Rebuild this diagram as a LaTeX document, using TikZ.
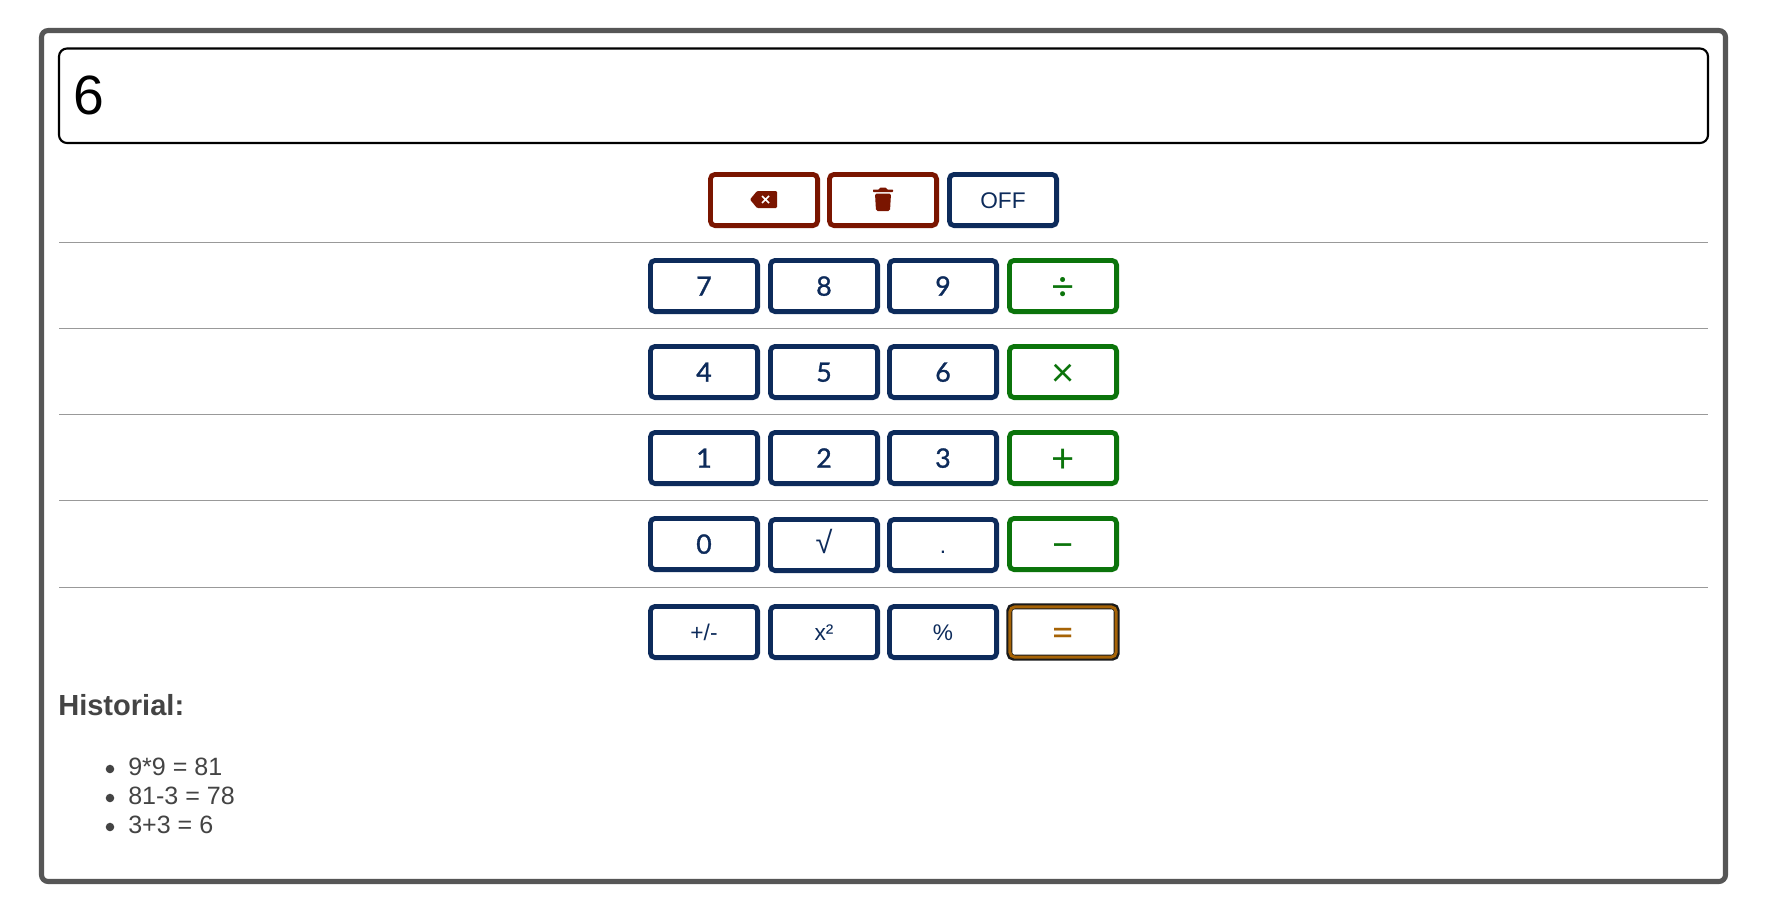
\documentclass[tikz,border=0pt]{standalone}
\usepackage{fontspec}
\setmainfont{Liberation Sans}
\newfontfamily\keyfont[FakeBold=1.2]{Lato}
\newfontfamily\opfont{Lato}
\definecolor{navykey}{HTML}{0D2B5B}
\definecolor{redkey}{HTML}{7A1500}
\definecolor{greenkey}{HTML}{0B740B}
\definecolor{orangekey}{HTML}{A66306}
\definecolor{inktext}{HTML}{444444}
\definecolor{framegray}{HTML}{565656}
\tikzset{
	keybase/.style={draw,rounded corners=3.5pt,line width=3.6pt,minimum width=80.4pt,minimum height=38.4pt,inner sep=0pt},
	numkey/.style={keybase,draw=navykey,text=navykey,font=\keyfont\fontsize{20}{20}\selectfont,text height=14.5pt,text depth=0pt},
	plainkey/.style={keybase,draw=navykey,text=navykey,font=\fontsize{17}{17}\selectfont,text height=12pt,text depth=0pt},
	opkey/.style={keybase,draw=greenkey,text=greenkey,font=\opfont\fontsize{30}{30}\selectfont,text height=21pt,text depth=0pt},
	delkey/.style={keybase,draw=redkey},
	sepline/.style={draw=black!40,line width=0.9pt},
	histline/.style={anchor=base west,inner sep=0pt,text=inktext,font=\fontsize{18.8}{18.8}\selectfont},
	histdot/.style={fill=inktext,circle,inner sep=0pt,minimum size=6.4pt}
}
\begin{document}
\begin{tikzpicture}[x=0.75pt,y=-0.75pt]
	\path[use as bounding box,fill=white] (0,0) rectangle (1781,915);
	\draw[framegray,line width=3.8pt,rounded corners=5pt] (41.5,30.5) rectangle (1725.5,881.5);
	\draw[black,line width=1.6pt,rounded corners=6pt] (59,48.5) rectangle (1708,143);
	\node[anchor=base west,inner sep=0pt,font=\fontsize{41.5}{41.5}\selectfont] (display) at (73,114) {6};

	\node[delkey] (backkey) at (764,200) {};
	\node[delkey] (trashkey) at (883,200) {};
	\node[plainkey] (offkey) at (1003,200) {OFF};
	\fill[redkey,rounded corners=0.8pt] (750,199.5) -- (757,191) -- (777,191) -- (777,208) -- (757,208) -- cycle;
	\draw[white,line width=1.3pt] (762,196) -- (769,203) (769,196) -- (762,203);
	\fill[redkey,rounded corners=0.5pt] (873,189.5) -- (879,189.5) -- (880,187.5) -- (886,187.5) -- (887,189.5) -- (893,189.5) -- (893,192) -- (873,192) -- cycle;
	\fill[redkey,rounded corners=1.2pt] (875,193.5) -- (891,193.5) -- (890,211) -- (876,211) -- cycle;

	\draw[sepline] (59,242.5) -- (1708,242.5);
	\node[numkey] (k7) at (704,286) {7};
	\node[numkey] (k8) at (824,286) {8};
	\node[numkey] (k9) at (943,286) {9};
	\node[opkey] (kdiv) at (1063,286) {÷};

	\draw[sepline] (59,328.5) -- (1708,328.5);
	\node[numkey] (k4) at (704,372) {4};
	\node[numkey] (k5) at (824,372) {5};
	\node[numkey] (k6) at (943,372) {6};
	\node[opkey] (kmul) at (1063,372) {×};

	\draw[sepline] (59,414.5) -- (1708,414.5);
	\node[numkey] (k1) at (704,458) {1};
	\node[numkey] (k2) at (824,458) {2};
	\node[numkey] (k3) at (943,458) {3};
	\node[opkey] (kadd) at (1063,458) {+};

	\draw[sepline] (59,500.5) -- (1708,500.5);
	\node[numkey] (k0) at (704,544) {0};
	\node[plainkey,font=\fontsize{23}{23}\selectfont] (kroot) at (824,545) {√};
	\node[plainkey] (kdot) at (943,545) {.};
	\node[opkey] (ksub) at (1063,544) {−};

	\draw[sepline] (59,587.5) -- (1708,587.5);
	\node[plainkey] (ksign) at (704,632) {+/-};
	\node[plainkey] (ksqr) at (824,632) {x²};
	\node[plainkey] (kpct) at (943,632) {\%};
	\node[keybase,draw=black!90,line width=4.5pt,minimum width=80.6pt,minimum height=38.6pt] (keq) at (1063,632) {};
	\node[opkey,draw=orangekey,text=orangekey,line width=2.2pt,minimum width=79.6pt,minimum height=37.6pt] (keqin) at (1063,632) {=};

	\node[anchor=base west,inner sep=0pt,text=inktext,font=\bfseries\fontsize{21.8}{21.8}\selectfont] (histhead) at (58,715) {Historial:};
	\node[histdot] (dota) at (110,769) {};
	\node[histline] (hista) at (128,775) {9*9 = 81};
	\node[histdot] (dotb) at (110,798) {};
	\node[histline] (histb) at (128,804) {81-3 = 78};
	\node[histdot] (dotc) at (110,827) {};
	\node[histline] (histc) at (128,833) {3+3 = 6};
\end{tikzpicture}
\end{document}
